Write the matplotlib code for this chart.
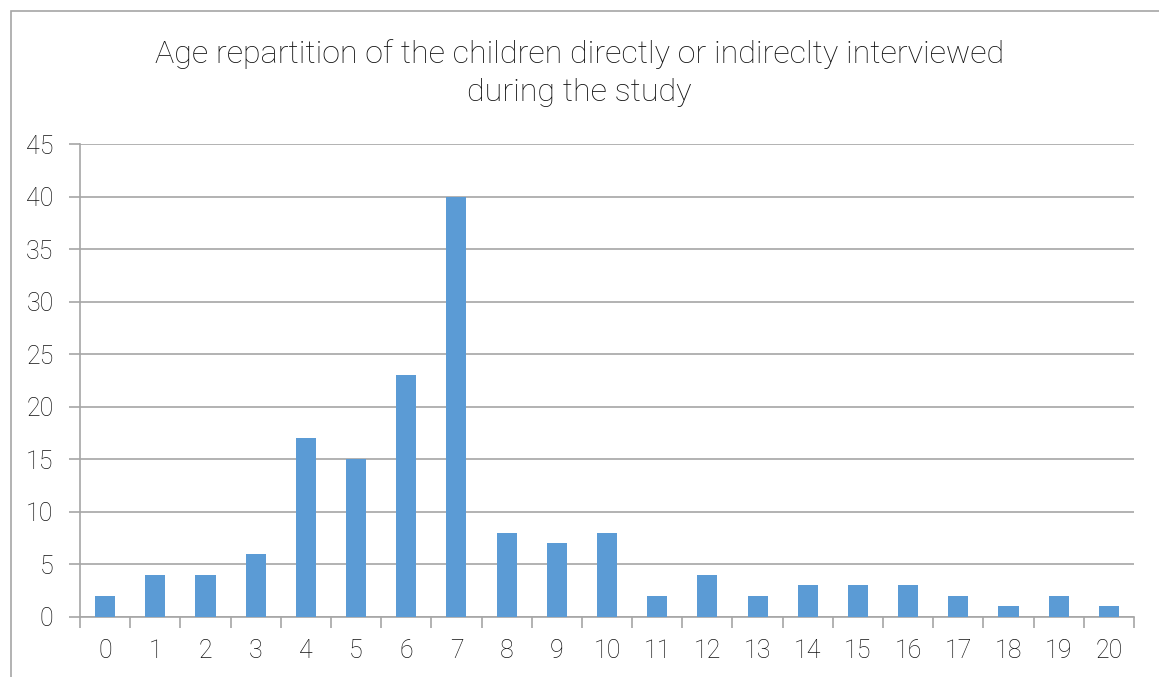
import matplotlib
matplotlib.use("Agg")
import matplotlib.pyplot as plt
from matplotlib.patches import Rectangle

# eta dei bambini e numero di bambini intervistati
eta = [str(i) for i in range(21)]
numero = [2, 4, 4, 6, 17, 15, 23, 40, 8, 7, 8, 2, 4, 2, 3, 3, 3, 2, 1, 2, 1]
y_ticks = [0, 5, 10, 15, 20, 25, 30, 35, 40, 45]
titolo = "Age repartition of the children directly or indireclty interviewed\nduring the study"

plt.rcParams["font.family"] = ["Roboto", "DejaVu Sans"]
grigio = "#a6a6a6"

fig = plt.figure(figsize=(11.59, 6.77), dpi=100)
# cornice esterna del grafico
fig.add_artist(Rectangle((11 / 1159, -0.1), 1.2, (677 - 11) / 677 + 0.1,
                         transform=fig.transFigure, fill=False,
                         edgecolor=grigio, linewidth=1.2))

ax = fig.add_axes([80 / 1159, 60 / 677, 1054 / 1159, 473 / 677])
posizioni = list(range(len(eta)))
ax.bar(posizioni, numero, width=0.4, color="#5b9bd5", zorder=3)

ax.set_xlim(-0.5, len(eta) - 0.5)
ax.set_ylim(0, 45)
ax.set_yticks(y_ticks)
ax.set_xticks(posizioni)
ax.set_xticklabels(eta)
ax.set_xticks([p - 0.5 for p in posizioni] + [len(eta) - 0.5], minor=True)

ax.grid(axis="y", color=grigio, linewidth=1.2, zorder=0)
for lato in ["top", "right"]:
    ax.spines[lato].set_visible(False)
ax.spines["left"].set_color(grigio)
ax.spines["bottom"].set_color(grigio)
ax.spines["left"].set_linewidth(1.2)
ax.spines["bottom"].set_linewidth(1.2)

ax.tick_params(axis="x", which="major", length=0, pad=16, labelsize=18, labelcolor="#111111")
ax.tick_params(axis="x", which="minor", length=8, width=1.2, color=grigio, direction="out")
ax.tick_params(axis="y", length=8, width=1.2, color=grigio, pad=11, labelsize=18, labelcolor="#111111")
for lab in ax.get_xticklabels() + ax.get_yticklabels():
    lab.set_fontweight("light")

fig.text(0.5, (677 - 73) / 677, titolo, ha="center", va="center", fontsize=23.2,
         fontweight="light", color="#111111", linespacing=1.42)

fig.savefig("out.png", dpi=100)
